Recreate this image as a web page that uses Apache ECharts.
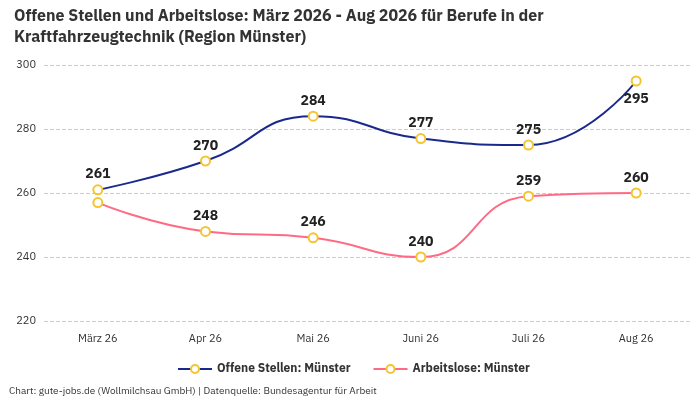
<!DOCTYPE html>
<html>
<head>
<meta charset="utf-8">
<script src="https://cdn.jsdelivr.net/npm/echarts@6/dist/echarts.min.js"></script>
<style>body{margin:0}#c{width:700px;height:400px}</style>
</head>
<body>
<div id="c"></div>
<script>
var months = ['März 26', 'Apr 26', 'Mai 26', 'Juni 26', 'Juli 26', 'Aug 26'];
var offeneStellen = [261, 270, 284, 277, 275, 295];
var arbeitslose = [257, 248, 246, 240, 259, 260];

var chart = echarts.init(document.getElementById('c'));
var font = "'IBM Plex Sans', 'Noto Sans', sans-serif";

function serie(name, data, color) {
  return {
    name: name,
    type: 'line',
    smooth: true,
    data: data,
    symbol: 'circle',
    symbolSize: 9,
    lineStyle: { color: color, width: 2 },
    itemStyle: { color: '#fff', borderColor: '#f5c431', borderWidth: 2 },
    label: {
      show: true,
      position: 'top',
      distance: 3,
      fontFamily: font,
      fontWeight: 'bold',
      fontSize: 14,
      color: '#222'
    }
  };
}

var s1 = serie('Offene Stellen: Münster', offeneStellen, '#1a2a8c');
s1.data = offeneStellen.map(function (v, i) {
  return i === 5 ? { value: v, label: { position: 'bottom', distance: 5 } } : v;
});
var s2 = serie('Arbeitslose: Münster', arbeitslose, '#ff6b85');
s2.data = arbeitslose.map(function (v, i) {
  return i === 0 ? { value: v, label: { show: false } } : v;
});

chart.setOption({
  textStyle: { fontFamily: font },
  title: {
    text: 'Offene Stellen und Arbeitslose: März 2026 - Aug 2026 für Berufe in der\nKraftfahrzeugtechnik (Region Münster)',
    left: 9, top: 1,
    textStyle: { fontSize: 16, fontWeight: 'bold', color: '#333', lineHeight: 21 }
  },
  legend: {
    bottom: 20,
    left: 172,
    itemWidth: 34,
    itemHeight: 10,
    itemGap: 22,
    textStyle: { fontWeight: 'bold', fontSize: 12, color: '#333' },
    data: ['Offene Stellen: Münster', 'Arbeitslose: Münster']
  },
  graphic: [{
    type: 'text', left: 9, bottom: 4,
    style: { text: 'Chart: gute-jobs.de (Wollmilchsau GmbH) | Datenquelle: Bundesagentur für Arbeit', fontSize: 10, fill: '#333', fontFamily: font }
  }],
  grid: { left: 44, right: 10, top: 65, bottom: 79, containLabel: false },
  xAxis: {
    type: 'category',
    data: months,
    axisLine: { show: false },
    axisTick: { show: false },
    axisLabel: { color: '#333', fontSize: 11, margin: 12 }
  },
  yAxis: {
    type: 'value',
    min: 220, max: 300, interval: 20,
    axisLabel: { color: '#333', fontSize: 11 },
    splitLine: { lineStyle: { type: 'dashed', color: '#ccc' } }
  },
  series: [s1, s2]
});
</script>
</body>
</html>
